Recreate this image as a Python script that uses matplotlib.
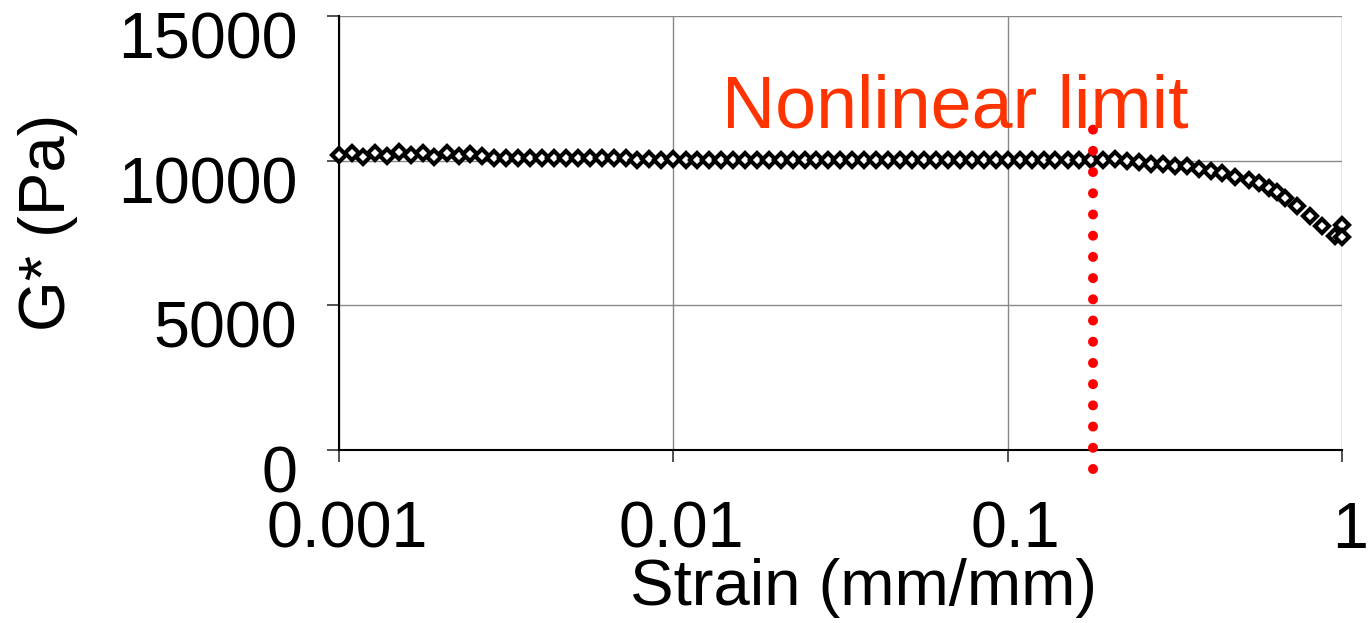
import matplotlib
matplotlib.use("Agg")
import matplotlib.pyplot as plt
import matplotlib.transforms as mtransforms
from matplotlib.ticker import FixedLocator, NullLocator

plt.rcParams['font.family'] = ['Liberation Sans', 'DejaVu Sans']

# ---- data ----
strain = [
    0.00100, 0.00109, 0.00118, 0.00128, 0.00139, 0.00151, 0.00164, 0.00178, 0.00193, 0.00210,
    0.00228, 0.00247, 0.00268, 0.00291, 0.00316, 0.00343, 0.00373, 0.00405, 0.00439, 0.00477,
    0.00518, 0.00562, 0.00611, 0.00663, 0.00720, 0.00781, 0.00848, 0.00921,
    0.0100, 0.0109, 0.0118, 0.0128, 0.0139, 0.0151, 0.0164, 0.0178, 0.0193, 0.0210,
    0.0228, 0.0247, 0.0268, 0.0291, 0.0316, 0.0343, 0.0373, 0.0405, 0.0439, 0.0477,
    0.0518, 0.0562, 0.0611, 0.0663, 0.0720, 0.0781, 0.0848, 0.0921,
    0.100, 0.109, 0.118, 0.128, 0.139, 0.151, 0.164, 0.178, 0.193, 0.210,
    0.228, 0.247, 0.268, 0.291, 0.316, 0.343, 0.373, 0.405, 0.439,
    0.477, 0.526, 0.564, 0.604, 0.638, 0.675, 0.733, 0.802, 0.871, 0.953, 1.0, 1.0,
]
g_star = [
    10200, 10250, 10120, 10280, 10150, 10300, 10180, 10260, 10120, 10280,
    10150, 10230, 10150, 10090, 10090, 10090, 10090, 10090, 10090, 10090,
    10090, 10090, 10090, 10090, 10090, 10020, 10060, 10010,
    10050, 10010, 10040, 10030, 10030, 10030, 10030, 10030, 10030, 10030,
    10030, 10030, 10030, 10030, 10030, 10030, 10030, 10030, 10030, 10030,
    10030, 10030, 10030, 10030, 10030, 10030, 10030, 10030,
    10030, 10030, 10030, 10030, 10030, 10030, 10030, 10030, 10020, 10050,
    9980, 9960, 9900, 9890, 9830, 9800, 9720, 9650, 9560,
    9440, 9330, 9230, 9060, 8920, 8710, 8430, 8090, 7740, 7400, 7780, 7370,
]
nonlinear_limit = 0.18
limit_line_y = [-667, 11100]
x_ticks = [0.001, 0.01, 0.1, 1]
x_tick_labels = ['0.001', '0.01', '0.1', '1']
y_ticks = [0, 5000, 10000, 15000]
y_tick_labels = ['0', '5000', '10000', '15000']

# ---- figure ----
fig = plt.figure(figsize=(13.68, 6.23), dpi=100)
ax = fig.add_axes([339 / 1368, 1 - 450 / 623, (1342 - 339) / 1368, (450 - 16) / 623])

ax.set_xscale('log')
ax.set_xlim(0.001, 1)
ax.set_ylim(0, 15000)

ax.grid(True, color='#888888', linewidth=1.0)
ax.set_axisbelow(True)

ax.plot(strain, g_star, linestyle='none', marker='D', markersize=7.0,
        markerfacecolor='white', markeredgecolor='black', markeredgewidth=3.0,
        clip_on=False, zorder=3)

ax.plot([nonlinear_limit, nonlinear_limit], limit_line_y, color='#ff0000',
        linewidth=7.2, linestyle=(0, (0.001, 2.12)), dash_capstyle='round',
        clip_on=False, zorder=4)

ax.text(0.614, 0.742, 'Nonlinear limit', transform=ax.transAxes,
        ha='center', va='baseline', fontsize=53, color='#ff3300', zorder=5)

for s in ['top', 'right']:
    ax.spines[s].set_visible(False)
for s in ['left', 'bottom']:
    ax.spines[s].set_color('black')
    ax.spines[s].set_linewidth(1.5)

ax.xaxis.set_major_locator(FixedLocator(x_ticks))
ax.xaxis.set_minor_locator(NullLocator())
ax.set_xticklabels(x_tick_labels)
ax.yaxis.set_major_locator(FixedLocator(y_ticks))
ax.set_yticklabels(y_tick_labels)

ax.tick_params(axis='both', direction='out', length=8.6, width=1.2, color='#333333',
               labelsize=46.5)
ax.tick_params(axis='y', pad=21.5)
ax.tick_params(axis='x', pad=28)

dy = mtransforms.ScaledTranslation(0, -0.19, fig.dpi_scale_trans)
for lab in ax.get_yticklabels():
    lab.set_transform(lab.get_transform() + dy)
dx = mtransforms.ScaledTranslation(0.08, 0, fig.dpi_scale_trans)
for lab in ax.get_xticklabels():
    lab.set_transform(lab.get_transform() + dx)

ax.set_xlabel('Strain (mm/mm)', fontsize=47)
ax.xaxis.set_label_coords(0.523, -0.25)
ax.set_ylabel('G* (Pa)', fontsize=47)
ax.yaxis.set_label_coords(-0.26, 0.525)

fig.savefig('out.png', dpi=100)
